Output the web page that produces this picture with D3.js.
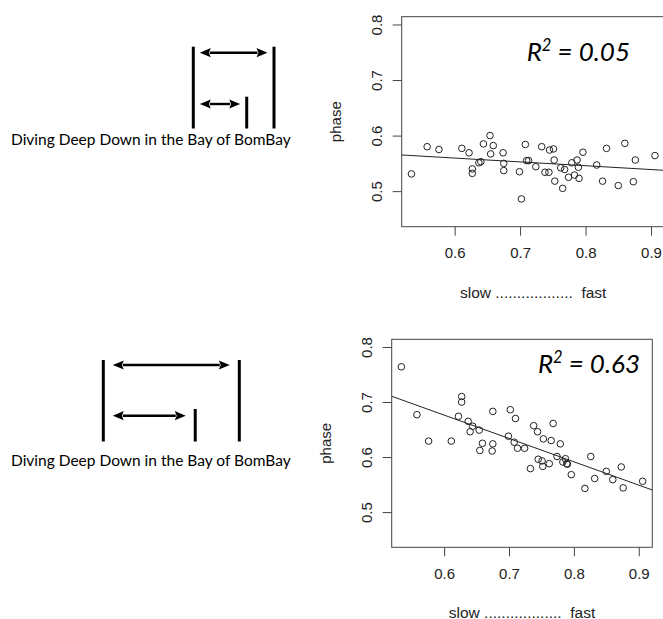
<!DOCTYPE html>
<html>
<head>
<meta charset="utf-8">
<script src="https://cdn.jsdelivr.net/npm/d3@7"></script>
<style>
  body { margin: 0; background: #fff; }
  svg { display: block; }
</style>
</head>
<body>
<svg id="chart" width="663" height="619"></svg>
<script>
// tempo (slow ... fast), shared by both panels
const speed = [0.534, 0.558, 0.576, 0.611, 0.622, 0.627, 0.627, 0.637, 0.640, 0.644,
    0.654, 0.655, 0.659, 0.674, 0.675, 0.675, 0.699, 0.702, 0.708, 0.710,
    0.713, 0.724, 0.733, 0.738, 0.744, 0.745, 0.751, 0.752, 0.753, 0.762,
    0.765, 0.768, 0.774, 0.779, 0.783, 0.787, 0.789, 0.790, 0.796, 0.817,
    0.826, 0.832, 0.850, 0.860, 0.873, 0.876, 0.906]
// phase, top panel
const phaseTop = [0.531, 0.580, 0.575, 0.577, 0.569, 0.540, 0.532, 0.551, 0.553, 0.585,
    0.600, 0.567, 0.582, 0.569, 0.550, 0.537, 0.535, 0.486, 0.584, 0.555,
    0.555, 0.544, 0.580, 0.534, 0.534, 0.574, 0.576, 0.556, 0.518, 0.542,
    0.505, 0.539, 0.525, 0.551, 0.529, 0.556, 0.543, 0.523, 0.570, 0.547,
    0.518, 0.577, 0.510, 0.586, 0.517, 0.556, 0.564]
// phase, bottom panel
const phaseBottom = [0.764, 0.677, 0.629, 0.629, 0.674, 0.710, 0.700, 0.665, 0.646, 0.656,
    0.649, 0.612, 0.625, 0.611, 0.683, 0.624, 0.638, 0.686, 0.627, 0.670,
    0.616, 0.616, 0.579, 0.657, 0.646, 0.596, 0.593, 0.583, 0.633, 0.588,
    0.630, 0.661, 0.601, 0.624, 0.591, 0.597, 0.588, 0.587, 0.568, 0.543,
    0.601, 0.561, 0.574, 0.559, 0.582, 0.544, 0.556]

const xTicks = [0.6, 0.7, 0.8, 0.9]
const yTicks = [0.5, 0.6, 0.7, 0.8]
const yLimits = [0.45, 0.8]
const r2Labels = ["0.05", "0.63"]
const xTitle = "slow ..................  fast"
const yTitle = "phase"
const caption = "Diving Deep Down in the Bay of BomBay"
// where the short interval ends, as a share of the long one
const shortShare = [0.662, 0.676]

var svg = d3.select('#chart')
var axisFont = "'Liberation Sans', Arial, sans-serif"

var panels = [
    { ys: phaseTop, left: 401.7, top: 16.7, width: 263, height: 210, r2Right: 630, r2Base: 60.5 },
    { ys: phaseBottom, left: 391.7, top: 339.3, width: 260.6, height: 208, r2Right: 640, r2Base: 373.3 }
]

var diagrams = [
    { x0: 193.3, x1: 274, top: 46.7, bottom: 128.5, midTop: 96.7, a1: 52.7, a2: 104, inset: 6.5, textY: 145 },
    { x0: 103.3, x1: 239.3, top: 360, bottom: 441.5, midTop: 409, a1: 365, a2: 415.7, inset: 9.5, textY: 466 }
]

// R style padding: 4% each side
const pad = ext => { var d = (ext[1] - ext[0]) * 0.04; return [ext[0] - d, ext[1] + d] }

panels.forEach(function (p, idx) {
    var x_scale = d3.scaleLinear()
        .domain(pad(d3.extent(speed)))
        .range([p.left, p.left + p.width])
    var y_scale = d3.scaleLinear()
        .domain(pad(yLimits))
        .range([p.top + p.height, p.top])

    var g = svg.append('g')

    var clipId = 'clip' + idx
    svg.append('clipPath').attr('id', clipId)
        .append('rect')
        .attr('x', p.left).attr('y', p.top)
        .attr('width', p.width).attr('height', p.height)

    // least squares fit
    var mx = d3.mean(speed), my = d3.mean(p.ys)
    var sxy = d3.sum(speed, (d, i) => (d - mx) * (p.ys[i] - my))
    var sxx = d3.sum(speed, d => (d - mx) * (d - mx))
    var b = sxy / sxx, a = my - b * mx
    var dom = x_scale.domain()

    g.append('line')
        .attr('clip-path', 'url(#' + clipId + ')')
        .attr('x1', x_scale(dom[0])).attr('y1', y_scale(a + b * dom[0]))
        .attr('x2', x_scale(dom[1])).attr('y2', y_scale(a + b * dom[1]))
        .attr('stroke', '#222')
        .attr('stroke-width', 1)

    g.selectAll('circle')
        .data(speed)
        .enter()
        .append('circle')
        .attr('cx', d => x_scale(d))
        .attr('cy', (d, i) => y_scale(p.ys[i]))
        .attr('r', 3.3)
        .attr('fill', 'none')
        .attr('stroke', '#222')
        .attr('stroke-width', 1)

    g.append('rect')
        .attr('x', p.left).attr('y', p.top)
        .attr('width', p.width).attr('height', p.height)
        .attr('fill', 'none')
        .attr('stroke', '#444')
        .attr('stroke-width', 1)

    var x_axis = d3.axisBottom(x_scale)
        .tickValues(xTicks)
        .tickSize(9)
        .tickSizeOuter(0)
        .tickPadding(12)
        .tickFormat(d3.format('.1f'))
    var xg = g.append('g')
        .attr('transform', 'translate(0,' + (p.top + p.height) + ')')
        .call(x_axis)
    xg.select('.domain').remove()

    var y_axis = d3.axisLeft(y_scale)
        .tickValues(yTicks)
        .tickSize(9)
        .tickSizeOuter(0)
        .tickFormat(d3.format('.1f'))
    var yg = g.append('g')
        .attr('transform', 'translate(' + p.left + ',0)')
        .call(y_axis)
    yg.select('.domain').remove()
    yg.selectAll('.tick text')
        .attr('transform', 'rotate(-90)')
        .attr('x', 0)
        .attr('y', -20)
        .attr('dy', 0)
        .style('text-anchor', 'middle')

    g.selectAll('.tick line').attr('stroke', '#444')
    g.selectAll('.tick text')
        .attr('fill', '#222')
        .style('font-family', axisFont)
        .style('font-size', '15px')

    g.append('text')
        .attr('x', p.left + p.width / 2)
        .attr('y', p.top + p.height + 71)
        .style('text-anchor', 'middle')
        .style('font-family', axisFont)
        .style('font-size', '15.5px')
        .style('white-space', 'pre')
        .attr('fill', '#222')
        .text(xTitle)

    g.append('text')
        .attr('transform', 'translate(' + (p.left - 61) + ',' + (p.top + p.height / 2) + ') rotate(-90)')
        .style('text-anchor', 'middle')
        .style('font-family', axisFont)
        .style('font-size', '15px')
        .attr('fill', '#222')
        .text(yTitle)

    var r2 = g.append('text')
        .attr('x', p.r2Right)
        .attr('y', p.r2Base)
        .style('text-anchor', 'end')
        .style('font-family', "Lato, 'Open Sans', sans-serif")
        .style('font-style', 'italic')
        .style('font-size', '26px')
        .attr('fill', '#000')
    r2.append('tspan').text('R')
    r2.append('tspan').attr('dy', -10).style('font-size', '16.5px').text('2')
    r2.append('tspan').attr('dy', 10).text(' = ' + r2Labels[idx])
})

// interval pictures on the left
function arrow(g, xa, xb, y) {
    var hl = 11, hw = 4.6
    g.append('line')
        .attr('x1', xa + hl - 1).attr('x2', xb - hl + 1)
        .attr('y1', y).attr('y2', y)
        .attr('stroke', '#000').attr('stroke-width', 2.4)
    g.append('path')
        .attr('d', `M${xa},${y}L${xa + hl},${y - hw}L${xa + hl - 2},${y}L${xa + hl},${y + hw}Z`)
        .attr('fill', '#000')
    g.append('path')
        .attr('d', `M${xb},${y}L${xb - hl},${y - hw}L${xb - hl + 2},${y}L${xb - hl},${y + hw}Z`)
        .attr('fill', '#000')
}

diagrams.forEach(function (dg, idx) {
    var g = svg.append('g')
    var s = d3.scaleLinear().domain([0, 1]).range([dg.x0, dg.x1])
    var bars = [{ v: 0, top: dg.top }, { v: shortShare[idx], top: dg.midTop }, { v: 1, top: dg.top }]
    g.selectAll('line.bar')
        .data(bars)
        .enter()
        .append('line')
        .attr('class', 'bar')
        .attr('x1', d => s(d.v)).attr('x2', d => s(d.v))
        .attr('y1', d => d.top).attr('y2', dg.bottom)
        .attr('stroke', '#000')
        .attr('stroke-width', 3)
    arrow(g, s(0) + dg.inset, s(1) - dg.inset, dg.a1)
    arrow(g, s(0) + dg.inset, s(shortShare[idx]) - dg.inset, dg.a2)

    g.append('text')
        .attr('x', 11)
        .attr('y', dg.textY)
        .style('font-family', "Lato, 'Open Sans', sans-serif")
        .style('font-size', '15.5px')
        .attr('fill', '#000')
        .text(caption)
})
</script>
</body>
</html>
